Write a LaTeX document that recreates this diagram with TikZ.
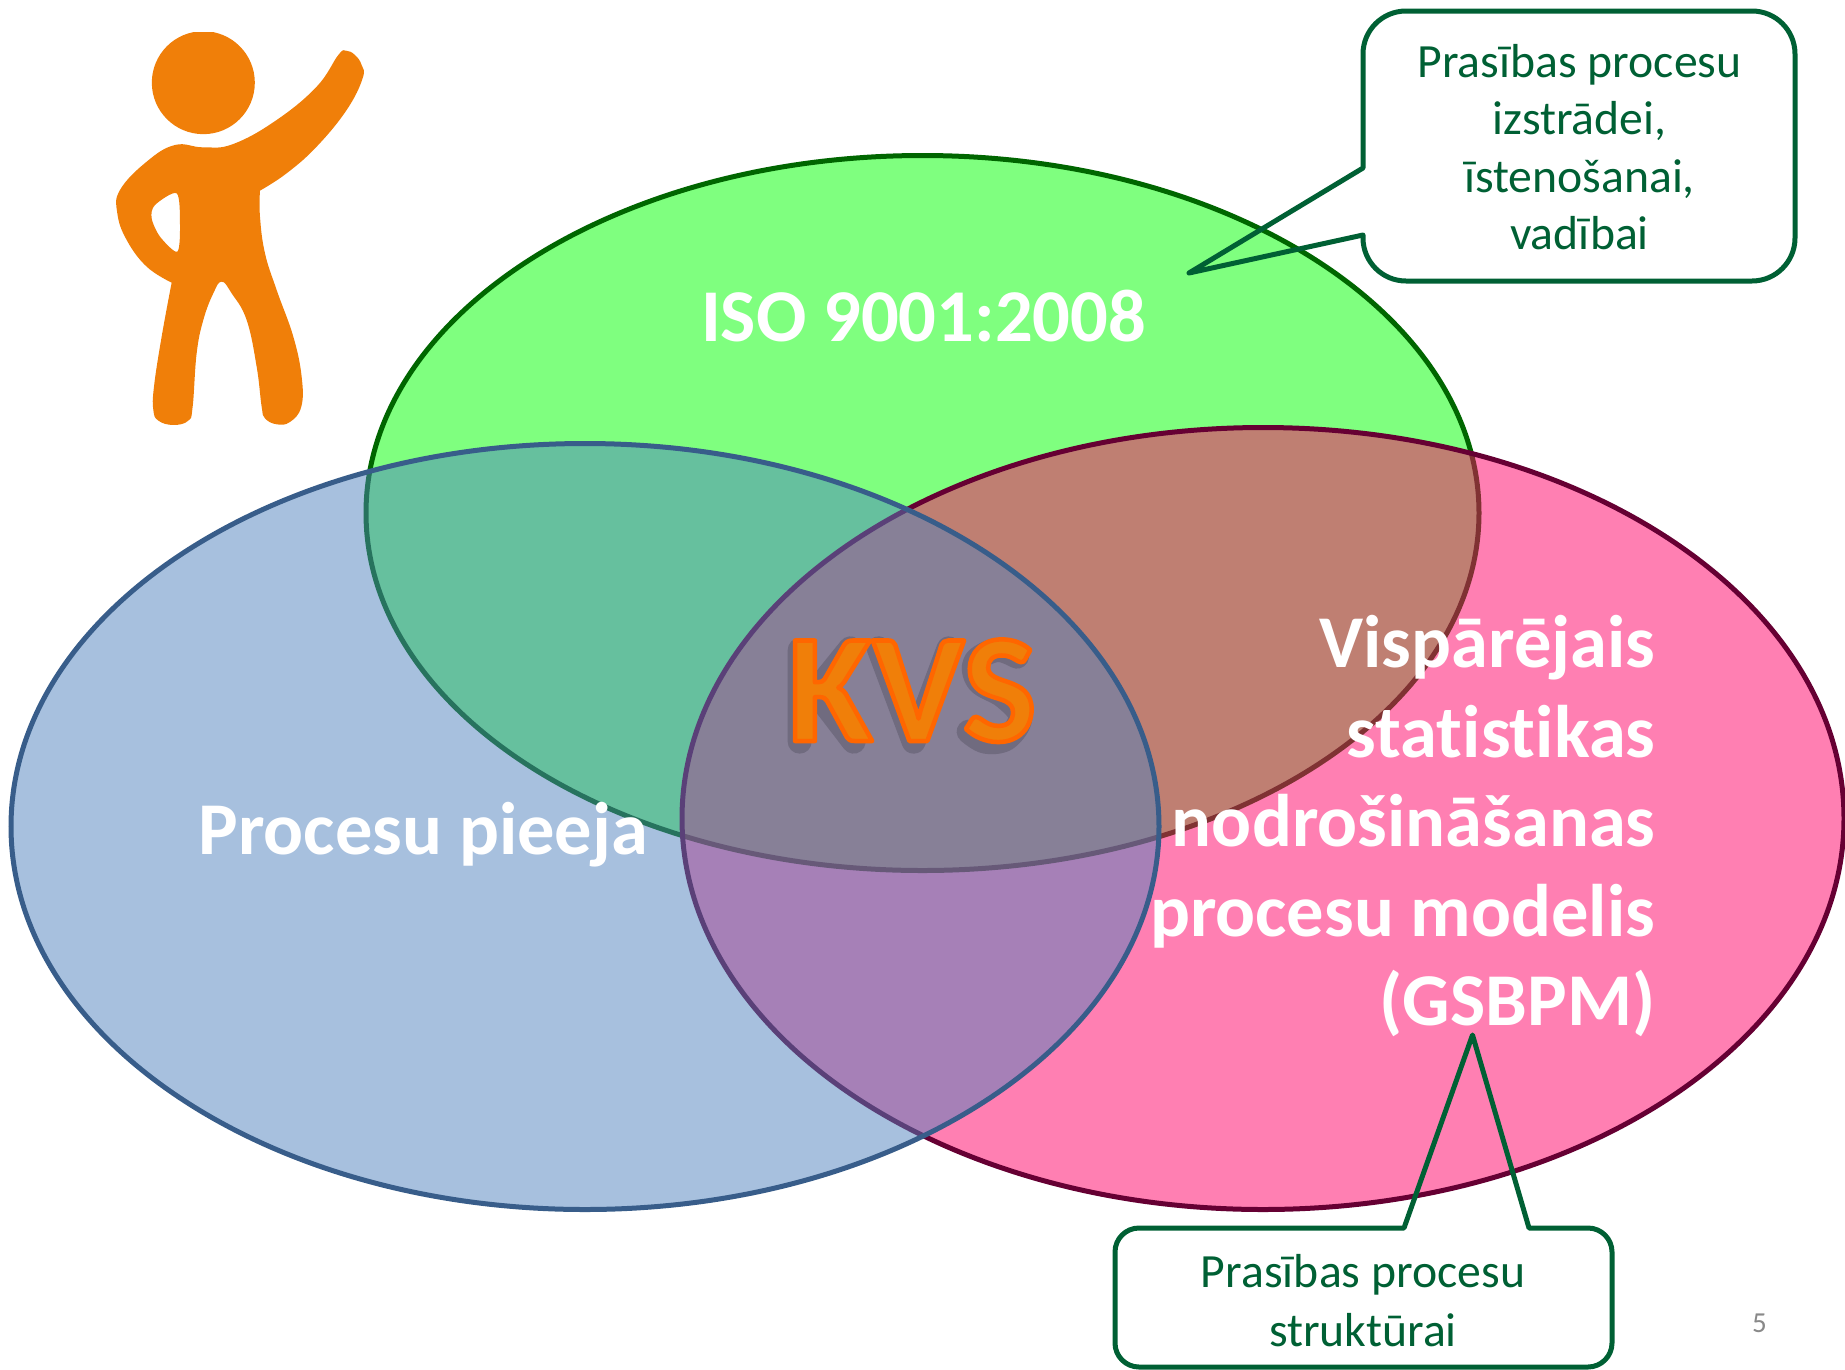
\documentclass[tikz,border=0pt]{standalone}
\usepackage{fontspec}
\setmainfont[Ligatures=NoCommon]{Carlito}
\definecolor{gfill}{HTML}{00FF00}
\definecolor{pfill}{HTML}{FF0066}
\definecolor{bfill}{HTML}{4F81BD}
\definecolor{gline}{HTML}{006600}
\definecolor{pline}{HTML}{660033}
\definecolor{bline}{HTML}{385D8A}
\definecolor{callout}{HTML}{006034}
\definecolor{person}{HTML}{F07F09}
\tikzset{
  venn/.style={line width=5pt,fill opacity=.5,draw opacity=1},
  bigtext/.style={anchor=base,text=white,font=\bfseries\fontsize{74.5}{89}\selectfont,inner sep=0pt},
  calltext/.style={anchor=base,text=callout,font=\fontsize{47.7}{57}\selectfont,inner sep=0pt},
  callshape/.style={draw=callout,line width=5pt,line join=round},
  glyphshadow/.style={draw=black,line width=24pt,line join=round,line cap=round,draw opacity=.16}
}
\newcommand{\outlinedtext}[1]{\special{pdf:literal 2 Tr 4.5 w 1 j 1 0.4 0 RG}#1\special{pdf:literal 0 Tr 1 w}}
\begin{document}
\begin{tikzpicture}[x=1pt,y=-1pt]
\useasboundingbox (0,0) rectangle (1845,1369);
% person
\begin{scope}[shift={(90,10)},x=.3333pt,y=-.3333pt]
  \clip (60,66) rectangle (840,1250);
  \fill[person] (340,218) circle [radius=51.5pt];
  \fill[person,even odd rule]
    plot[smooth,tension=.7] coordinates {(510,542) (510,620) (525,730) (560,840) (610,980) (635,1100) (634,1190) (600,1236) (560,1243) (525,1225) (515,1190) (500,1070) (470,930) (425,850) (395,815) (370,850) (340,930) (320,1030) (308,1190) (295,1232) (250,1245) (205,1232) (190,1200) (192,1130) (215,980) (245,818)}
    -- plot[smooth,tension=.7] coordinates {(245,818) (170,770) (110,690) (82,610) (90,540) (170,455) (255,405) (340,412) (430,402) (560,330) (680,230) (745,135) (768,122) (795,135) (815,165) (818,205) (770,300) (680,410) (590,490) (510,542)}
    -- cycle
    plot[smooth cycle,tension=.5] coordinates {(260,550) (195,585) (185,625) (210,680) (262,725) (270,640)};
\end{scope}
% venn
\path[venn,fill=gfill,draw=gline] (922.5,513) ellipse [x radius=556.5pt,y radius=357.5pt];
\path[venn,fill=pfill,draw=pline] (1263,818.5) ellipse [x radius=581pt,y radius=391pt];
\path[venn,fill=bfill,draw=bline] (585,826.5) ellipse [x radius=574pt,y radius=383pt];
% labels
\node[bigtext] (iso) at (923.5,341) {ISO 9001:2008};
\node[bigtext] (pieeja) at (423.5,854) {Procesu pieeja};
\node[bigtext,anchor=base east] (g1) at (1655.5,667.5) {Vispārējais};
\node[bigtext,anchor=base east] (g2) at (1655.5,757) {statistikas};
\node[bigtext,anchor=base east] (g3) at (1655.5,846.5) {nodrošināšanas};
\node[bigtext,anchor=base east] (g4) at (1655.5,936) {procesu modelis};
\node[bigtext,anchor=base east] (g5) at (1655.5,1025.5) {(GSBPM)};
% KVS shadow
\begin{scope}[shift={(737,605)},x=.3333pt,y=-.3333pt]
  \draw[glyphshadow] (188,135) -- (188,410) (340,130) -- (235,260) -- (350,410);
  \draw[glyphshadow] (425,130) -- (530,410) -- (635,130);
  \draw[glyphshadow] plot[smooth,tension=.6] coordinates {(840,155) (780,135) (715,170) (725,230) (800,275) (850,335) (810,400) (745,410) (695,380)};
\end{scope}
\node[anchor=base,inner sep=0pt,text=person,font=\bfseries\fontsize{155}{180}\selectfont] (kvs) at (912,741) {\outlinedtext{KVS}};
% callouts
\draw[callshape] (1363,168) -- (1189,273) -- (1363,235) [rounded corners=43pt] -- (1363,281) -- (1795,281) -- (1795,11) -- (1363,11) [sharp corners] -- cycle;
\node[calltext] (c1a) at (1579.5,77) {Prasības procesu};
\node[calltext] (c1b) at (1579.5,134) {izstrādei,};
\node[calltext] (c1c) at (1579.5,192) {īstenošanai,};
\node[calltext] (c1d) at (1579.5,249) {vadībai};
\draw[callshape] (1404,1228) -- (1472.5,1035) -- (1529,1228) [rounded corners=24pt] -- (1612,1228) -- (1612,1367) -- (1115,1367) -- (1115,1228) [sharp corners] -- cycle;
\node[calltext] (c2a) at (1363,1287) {Prasības procesu};
\node[calltext] (c2b) at (1363,1346) {struktūrai};
\node[anchor=base,inner sep=0pt,text={rgb,255:red,137;green,137;blue,137},font=\fontsize{29}{34}\selectfont] (num) at (1759.5,1332) {5};
\end{tikzpicture}
\end{document}
